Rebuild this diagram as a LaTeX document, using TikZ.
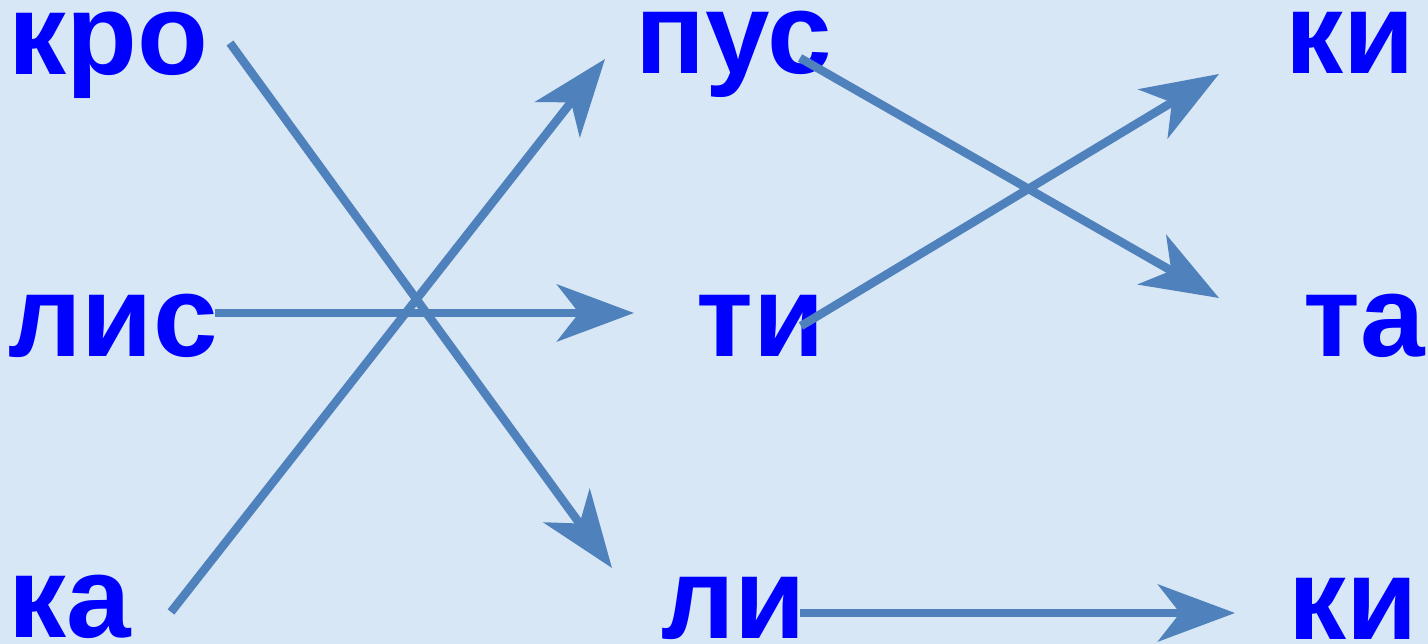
\documentclass[tikz,border=0pt]{standalone}
\usepackage{fontspec}
\setmainfont{Liberation Sans}
\usetikzlibrary{arrows.meta}
\definecolor{paper}{RGB}{216,231,245}
\definecolor{syllable}{RGB}{0,0,255}
\definecolor{link}{RGB}{79,129,189}
\tikzset{
  syl/.style={anchor=base west, inner sep=0pt, text=syllable,
    text height=1.2cm, text depth=0pt,
    font=\fontsize{66}{66}\selectfont\bfseries},
  joinline/.style={draw=link, line width=0.17cm,
    -{Stealth[length=1.54cm, width=1.14cm, inset=0.44cm]}}
}

\begin{document}
\begin{tikzpicture}[x=0.02cm, y=-0.02cm]
				\fill[paper] (0,0) rectangle (1428,644);
				\useasboundingbox (0,0) rectangle (1428,644);
				
				% top row
				\node[syl] (kro) at (8,75) {кро};
				\node[syl] (pus) at (635,74) {пус};
				\node[syl] (kitop) at (1285,74) {ки};
				
				% middle row
				\node[syl] (lis) at (8,357) {лис};
				\node[syl] (ti) at (696,357) {ти};
				\node[syl] (ta) at (1303,357) {та};
				
				% bottom row
				\node[syl] (ka) at (8,638) {ка};
				\node[syl] (li) at (661,639) {ли};
				\node[syl] (kibot) at (1288,640) {ки};
				
				% ends of the links
				\coordinate (kro-out) at (230,43);
				\coordinate (li-in) at (612,568);
				\coordinate (ka-out) at (171,612);
				\coordinate (pus-in) at (605,59);
				\coordinate (lis-out) at (215,313);
				\coordinate (ti-in) at (634,313);
				\coordinate (pus-out) at (800,58);
				\coordinate (ta-in) at (1219,298);
				\coordinate (ti-out) at (801,326);
				\coordinate (kitop-in) at (1219,74);
				\coordinate (li-out) at (800,613);
				\coordinate (kibot-in) at (1235,613);
				
				\draw[joinline] (kro-out) -- (li-in);
				\draw[joinline] (ka-out) -- (pus-in);
				\draw[joinline] (lis-out) -- (ti-in);
				\draw[joinline] (pus-out) -- (ta-in);
				\draw[joinline] (ti-out) -- (kitop-in);
				\draw[joinline] (li-out) -- (kibot-in);
\end{tikzpicture}
\end{document}
